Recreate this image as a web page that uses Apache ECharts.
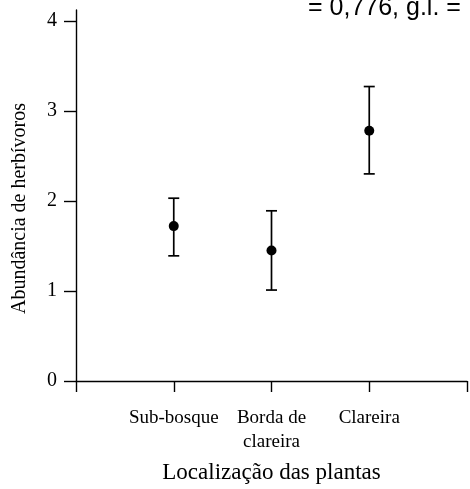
<!DOCTYPE html>
<html>
<head>
<meta charset="utf-8">
<script src="https://cdn.jsdelivr.net/npm/echarts@6/dist/echarts.min.js"></script>
<style>
  html, body { margin: 0; padding: 0; background: #fff; }
  #chart { width: 470px; height: 489px; }
</style>
</head>
<body>
<div id="chart"></div>
<script>
// dados
var categorias = ['', 'Sub-bosque', 'Borda de\nclareira', 'Clareira', ''];
var medias = [1.72, 1.45, 2.78];
var limSup = [2.03, 1.89, 3.27];
var limInf = [1.39, 1.01, 2.30];
var ticksY = [0, 1, 2, 3, 4];

var chart = echarts.init(document.getElementById('chart'));

var pontos = medias.map(function (v, i) { return [i + 1, v]; });
var barras = medias.map(function (v, i) { return [i + 1, limInf[i], limSup[i]]; });

chart.setOption({
    animation: false,
    backgroundColor: '#fff',
    grid: { left: 76, right: 2, top: 10, bottom: 107 },
    graphic: [{
        type: 'text',
        left: 308,
        top: -4,
        style: {
            text: '= 0,776, g.l. =',
            font: '25px "Liberation Sans", Arial, sans-serif',
            fill: '#000'
        }
    }],
    xAxis: {
        type: 'category',
        data: categorias,
        boundaryGap: false,
        name: 'Localização das plantas',
        nameLocation: 'middle',
        nameGap: 80,
        nameTextStyle: { fontFamily: '"Liberation Serif", serif', fontSize: 23, color: '#000' },
        axisLine: { lineStyle: { color: '#000', width: 1.4 } },
        axisTick: { length: 11, lineStyle: { color: '#000', width: 1.4 } },
        axisLabel: {
            interval: 0,
            margin: 25,
            fontFamily: '"Liberation Serif", serif',
            fontSize: 19,
            lineHeight: 24,
            color: '#000'
        },
        splitLine: { show: false }
    },
    yAxis: {
        type: 'value',
        min: 0,
        max: 4.12,
        interval: 1,
        name: 'Abundância de herbívoros',
        nameLocation: 'middle',
        nameGap: 46,
        nameRotate: 90,
        nameTextStyle: {
            fontFamily: '"Liberation Serif", serif',
            fontSize: 20,
            color: '#000',
            padding: [0, 26, 0, 0]
        },
        axisLine: { show: true, lineStyle: { color: '#000', width: 1.4 } },
        axisTick: { show: true, length: 12, customValues: ticksY, lineStyle: { color: '#000', width: 1.4 } },
        axisLabel: {
            customValues: ticksY,
            margin: 19,
            fontFamily: '"Liberation Serif", serif',
            fontSize: 20,
            color: '#000'
        },
        splitLine: { show: false }
    },
    series: [{
        type: 'custom',
        data: barras,
        renderItem: function (params, api) {
            var x = api.value(0);
            var baixo = api.coord([x, api.value(1)]);
            var alto = api.coord([x, api.value(2)]);
            var w = 5.5;
            var estilo = { stroke: '#000', lineWidth: 1.7 };
            return {
                type: 'group',
                children: [
                    { type: 'line', shape: { x1: alto[0], y1: alto[1], x2: baixo[0], y2: baixo[1] }, style: estilo },
                    { type: 'line', shape: { x1: alto[0] - w, y1: alto[1], x2: alto[0] + w, y2: alto[1] }, style: estilo },
                    { type: 'line', shape: { x1: baixo[0] - w, y1: baixo[1], x2: baixo[0] + w, y2: baixo[1] }, style: estilo }
                ]
            };
        },
        z: 2
    }, {
        type: 'scatter',
        data: pontos,
        symbol: 'circle',
        symbolSize: 10,
        itemStyle: { color: '#000', opacity: 1 },
        z: 3
    }]
});
</script>
</body>
</html>
